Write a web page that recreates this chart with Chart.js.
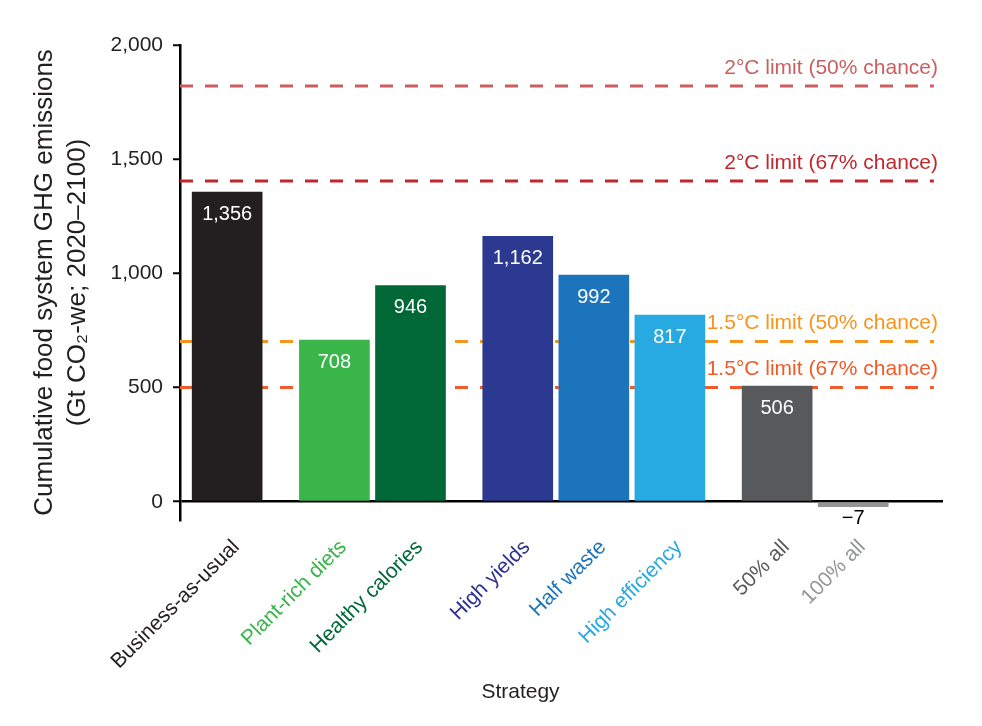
<!DOCTYPE html>
<html>
<head>
<meta charset="utf-8">
<title>Cumulative food system GHG emissions by strategy</title>
<script src="https://cdn.jsdelivr.net/npm/chart.js@4.4.1/dist/chart.umd.min.js"></script>
<style>
  html, body { margin: 0; padding: 0; background: #ffffff; }
  #wrap { width: 982px; height: 726px; }
</style>
</head>
<body>
<div id="wrap"><canvas id="emissionsChart"></canvas></div>
<script>
/* values, in axis order */
var strategies = ['Business-as-usual', 'Plant-rich diets', 'Healthy calories', 'High yields', 'Half waste', 'High efficiency', '50% all', '100% all'];
var strategyGroups = ['Baseline', 'Diet', 'Diet', 'Production', 'Production', 'Production', 'Combined', 'Combined'];
var emissions = [1356, 708, 946, 1162, 992, 817, 506, -7];
var barColors = ['#231f20', '#39b54a', '#006837', '#2b3990', '#1c75bc', '#27aae1', '#58595b', '#939598'];
var labelColors = ['#231f20', '#39b54a', '#006837', '#2e3192', '#1c75bc', '#27aae1', '#58595b', '#939598'];

var limitNames = ['2°C limit (50% chance)', '2°C limit (67% chance)', '1.5°C limit (50% chance)', '1.5°C limit (67% chance)'];
var limitValues = [1820, 1405, 702, 500];
var limitColors = ['#c95f5f', '#c1272d', '#f7941d', '#f15a29'];

var yTicks = [0, 500, 1000, 1500, 2000];

var FONT = '"Liberation Sans", Arial, sans-serif';
var textColor = '#231f20';

// groups get a bit of extra room between them
var groupGap = 0.41;
var xPos = [];
var g = 0;
for (var i = 0; i < strategies.length; i++) {
    if (i > 0 && strategyGroups[i] !== strategyGroups[i - 1]) g++;
    xPos.push(i + g * groupGap);
}
var xMin = -0.62;
var xMax = xPos[xPos.length - 1] + 1.18;
var lineEnd = xMax - 0.12;

var barData = emissions.map(function(v, i) { return { x: xPos[i], y: v }; });

var limitSets = limitValues.map(function(v, i) {
    return {
        type: 'line',
        label: limitNames[i],
        data: [{ x: xMin, y: v }, { x: lineEnd, y: v }],
        borderColor: limitColors[i],
        borderWidth: 3,
        borderDash: [13, 12],
        pointRadius: 0,
        fill: false,
        order: 1
    };
});

/* numbers on the bars, captions for the limit lines and the x title */
var annotate = {
    id: 'annotate',
    afterDatasetsDraw: function(chart) {
        var ctx = chart.ctx;
        var area = chart.chartArea;
        var yScale = chart.scales.y;
        var meta = chart.getDatasetMeta(0);
        ctx.save();
        ctx.textAlign = 'center';
        ctx.textBaseline = 'middle';
        ctx.font = '20px ' + FONT;
        meta.data.forEach(function(bar, i) {
            var v = emissions[i];
            if (v >= 0) {
                ctx.fillStyle = '#ffffff';
                ctx.fillText(v.toLocaleString('en-US'), bar.x, bar.y + 22);
            } else {
                ctx.fillStyle = '#000000';
                ctx.fillText('\u2212' + Math.abs(v), bar.x, bar.y + 12);
            }
        });

        ctx.font = '21px ' + FONT;
        ctx.textAlign = 'right';
        limitValues.forEach(function(v, i) {
            ctx.fillStyle = limitColors[i];
            ctx.fillText(limitNames[i], area.right - 5, yScale.getPixelForValue(v) - 18);
        });

        ctx.textAlign = 'center';
        ctx.fillStyle = textColor;
        ctx.fillText('Strategy', (area.left + area.right) / 2 - 41, chart.height - 34);
        ctx.restore();
    }
};

var ctx = document.getElementById('emissionsChart').getContext('2d');
var emissionsChart = new Chart(ctx, {
    type: 'bar',
    data: {
        datasets: [{
            label: 'Cumulative emissions',
            data: barData,
            backgroundColor: barColors,
            barThickness: 70,
            minBarLength: 5,
            order: 0
        }].concat(limitSets)
    },
    options: {
        responsive: true,
        maintainAspectRatio: false,
        animation: false,
        layout: { padding: { left: 0, right: 39, top: 45, bottom: 0 } },
        plugins: {
            legend: { display: false },
            tooltip: { enabled: false }
        },
        scales: {
            x: {
                type: 'linear',
                min: xMin,
                max: xMax,
                offset: false,
                grid: { display: false, drawTicks: false },
                border: { display: false },
                afterBuildTicks: function(scale) {
                    scale.ticks = xPos.map(function(v) { return { value: v }; });
                },
                afterFit: function(scale) { scale.height = 206; },
                ticks: {
                    autoSkip: false,
                    minRotation: 45,
                    maxRotation: 45,
                    padding: 15,
                    labelOffset: 9,
                    font: { size: 21, family: FONT },
                    color: function(c) { return labelColors[c.index]; },
                    callback: function(value, index) { return strategies[index]; }
                }
            },
            y: {
                min: -80,
                max: 2000,
                afterBuildTicks: function(scale) {
                    scale.ticks = yTicks.map(function(v) { return { value: v }; });
                },
                afterFit: function(scale) { scale.width = 180; },
                grid: {
                    color: function(c) { return c.tick && c.tick.value === 0 ? '#000000' : 'rgba(0,0,0,0)'; },
                    lineWidth: 2.5,
                    tickColor: '#000000',
                    tickWidth: 2,
                    tickLength: 7
                },
                border: { display: true, color: '#000000', width: 2.5 },
                ticks: {
                    padding: 10,
                    color: textColor,
                    font: { size: 21, family: FONT },
                    callback: function(value) { return value.toLocaleString('en-US'); }
                },
                title: {
                    display: true,
                    text: ['Cumulative food system GHG emissions', '(Gt CO\u2082-we; 2020\u20132100)'],
                    color: textColor,
                    font: { size: 26, family: FONT, lineHeight: 1.25 },
                    padding: { top: 29, bottom: 0 }
                }
            }
        }
    },
    plugins: [annotate]
});
</script>
</body>
</html>
